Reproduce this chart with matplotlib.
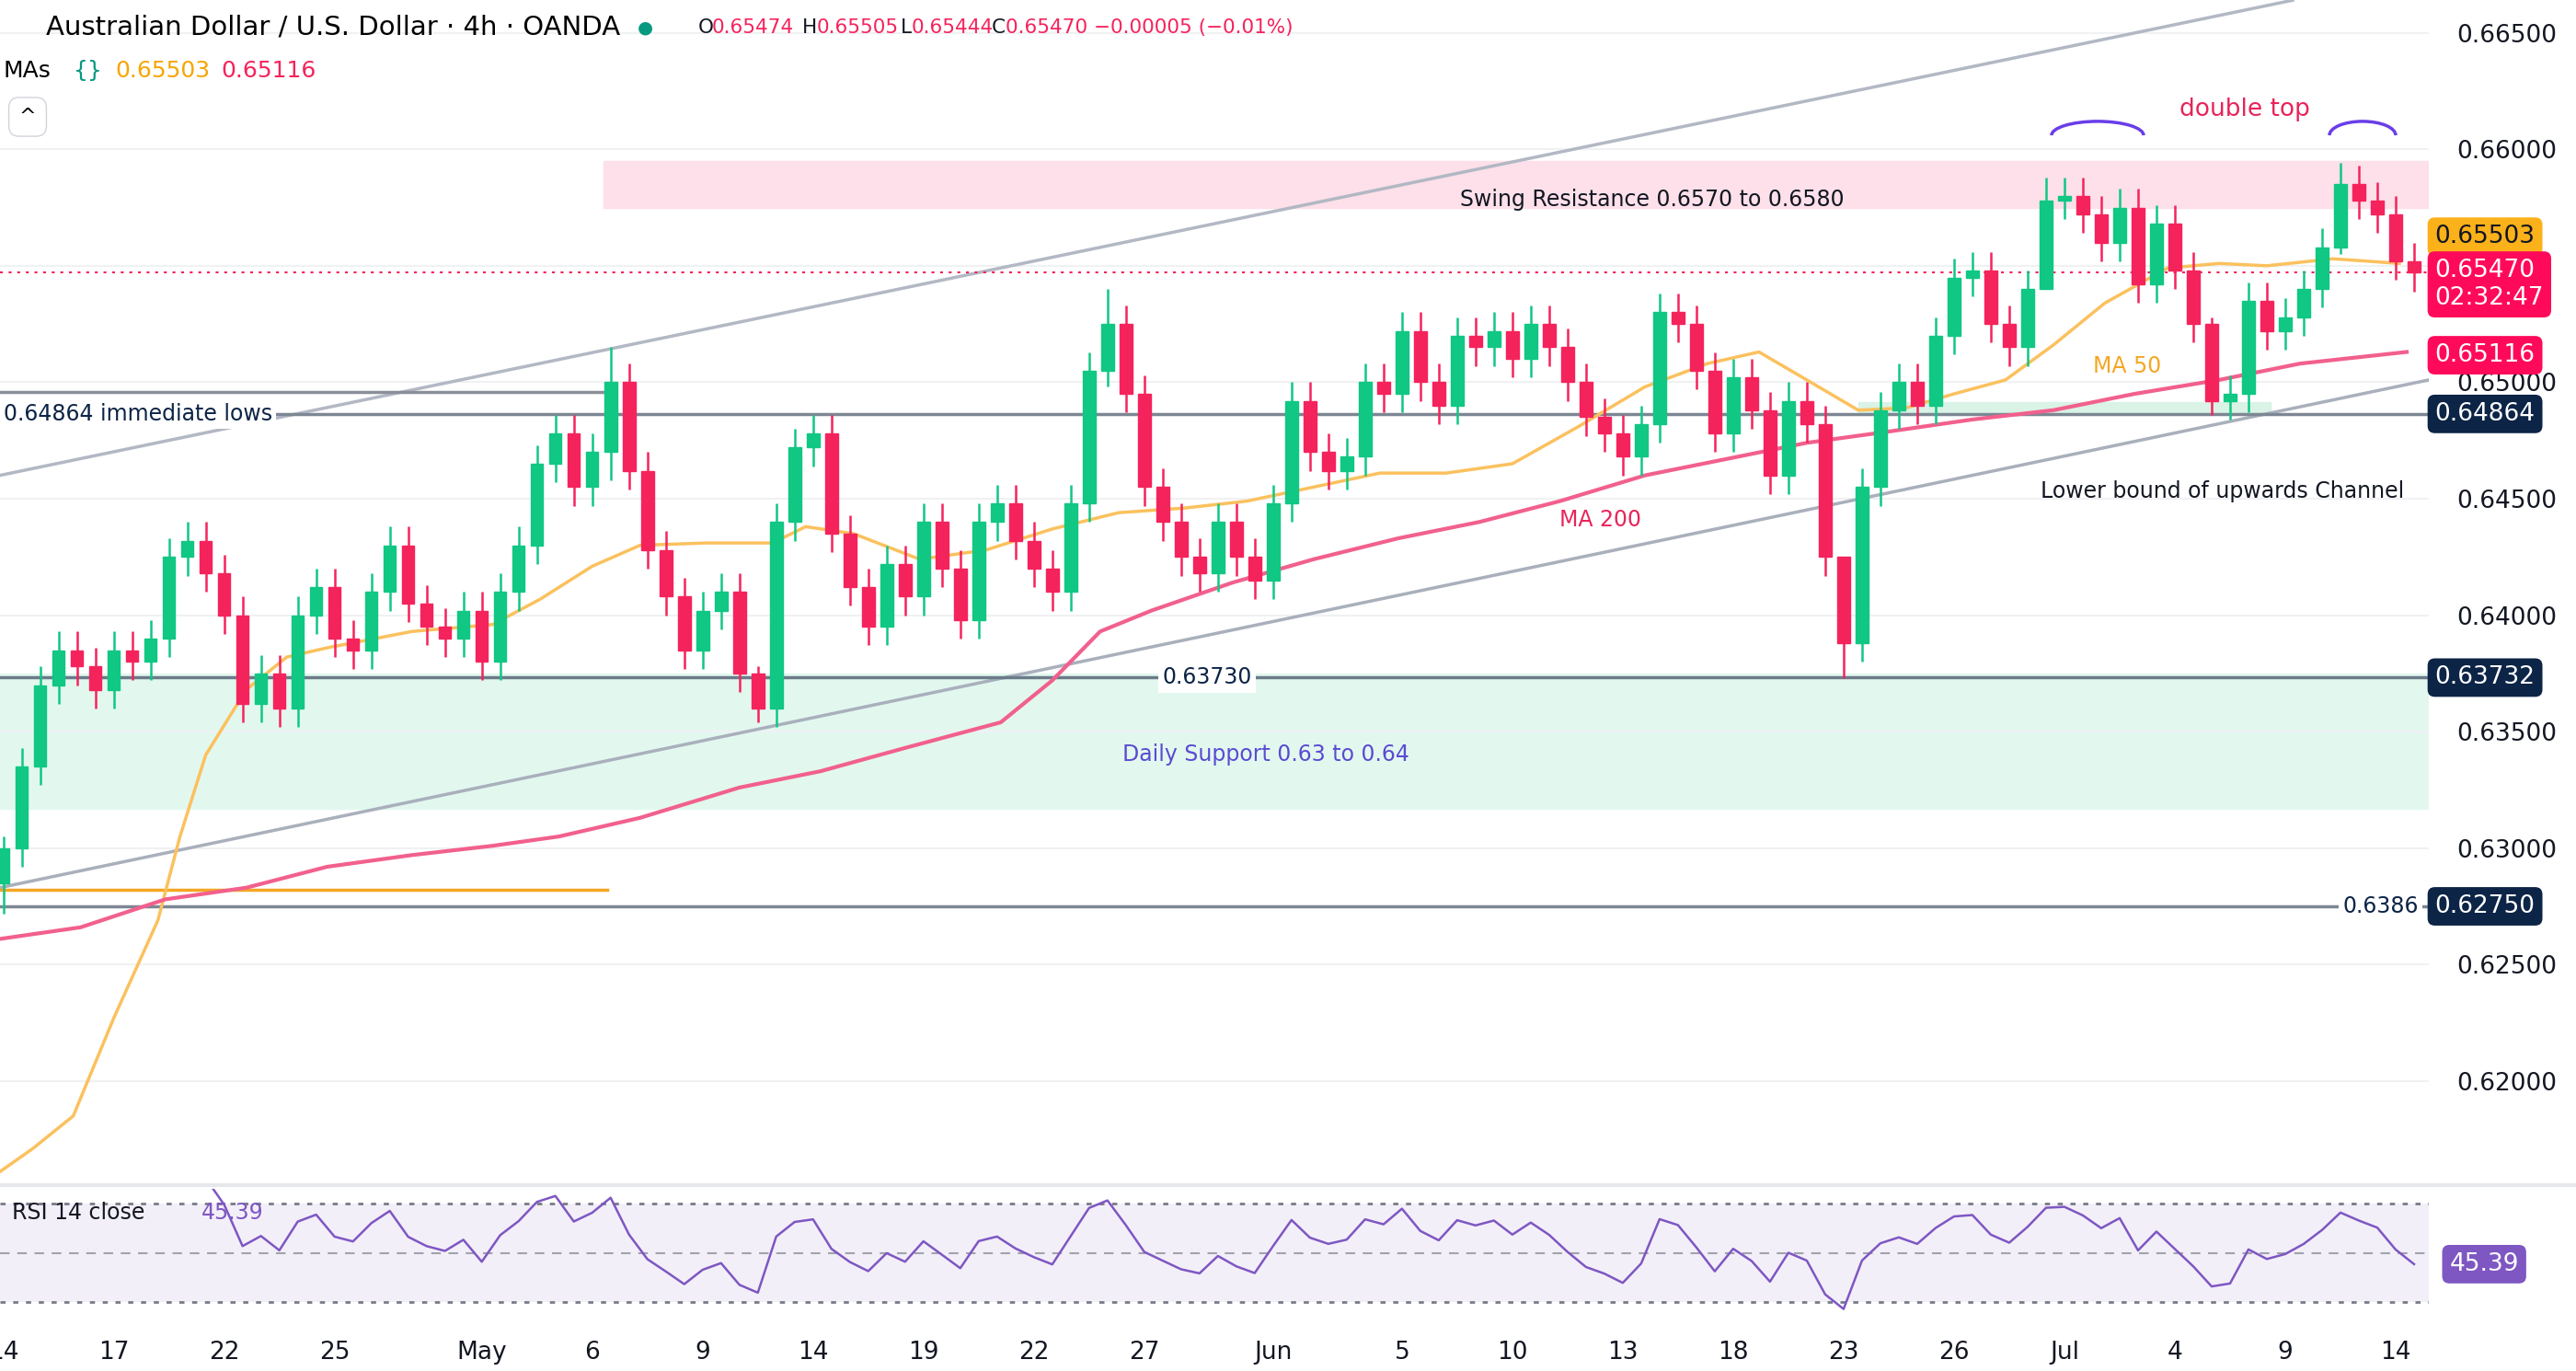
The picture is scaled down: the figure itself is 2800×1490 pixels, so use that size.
import numpy as np
import matplotlib.pyplot as plt
from matplotlib.patches import Rectangle, Arc
import matplotlib.transforms as mtransforms

plt.rcParams['font.family'] = 'DejaVu Sans'

# ---- data (x in trading days from Apr 14) ----
closes = [
    0.6300, 0.6335, 0.6370, 0.6385, 0.6378, 0.6368, 0.6385, 0.6380, 0.6390, 0.6425,
    0.6432, 0.6418, 0.6400, 0.6362, 0.6375, 0.6360, 0.6400, 0.6412, 0.6390, 0.6385,
    0.6410, 0.6430, 0.6405, 0.6395, 0.6390, 0.6402, 0.6380, 0.6410, 0.6430, 0.6465,
    0.6478, 0.6455, 0.6470, 0.6500, 0.6462, 0.6428, 0.6408, 0.6385, 0.6402, 0.6410,
    0.6375, 0.6360, 0.6440, 0.6472, 0.6478, 0.6435, 0.6412, 0.6395, 0.6422, 0.6408,
    0.6440, 0.6420, 0.6398, 0.6440, 0.6448, 0.6432, 0.6420, 0.6410, 0.6448, 0.6505,
    0.6525, 0.6495, 0.6455, 0.6440, 0.6425, 0.6418, 0.6440, 0.6425, 0.6415, 0.6448,
    0.6492, 0.6470, 0.6462, 0.6468, 0.6500, 0.6495, 0.6522, 0.6500, 0.6490, 0.6520,
    0.6515, 0.6522, 0.6510, 0.6525, 0.6515, 0.6500, 0.6485, 0.6478, 0.6468, 0.6482,
    0.6530, 0.6525, 0.6505, 0.6478, 0.6502, 0.6488, 0.6460, 0.6492, 0.6482, 0.6425,
    0.6388, 0.6455, 0.6488, 0.6500, 0.6490, 0.6520, 0.6545, 0.6548, 0.6525, 0.6515,
    0.6540, 0.6578, 0.6580, 0.6572, 0.6560, 0.6575, 0.6542, 0.6568, 0.6548, 0.6525,
    0.6492, 0.6495, 0.6535, 0.6522, 0.6528, 0.6540, 0.6558, 0.6585, 0.6578, 0.6572,
    0.6552, 0.6547,
]
first_open = 0.6285
# notable extremes: candle index -> (high, low)
extremes = {0: (0.6305, 0.6272), 33: (0.6515, 0.6458), 41: (0.6378, 0.6354),
            60: (0.6540, 0.6498), 100: (0.6425, 0.6373), 111: (0.6588, 0.6540),
            120: (0.6528, 0.6486), 127: (0.6594, 0.6555)}

ma50_days = [-0.1, 0.8, 1.9, 3.0, 4.2, 4.8, 5.5, 6.6, 7.7, 8.8, 11.1, 13.3, 14.6, 16.0,
             17.3, 19.1, 20.9, 21.8, 23.1, 24.9, 26.7, 28.5, 30.3, 32.1, 33.8, 35.6, 37.4,
             39.2, 41.0, 42.8, 44.6, 46.3, 47.7, 49.0, 50.4, 51.7, 53.0, 54.4, 55.7, 57.1,
             58.8, 60.2, 61.5, 63.3, 65.1]
ma50_vals = [0.6161, 0.6171, 0.6185, 0.6227, 0.6269, 0.6305, 0.6340, 0.6368, 0.6382,
             0.6386, 0.6393, 0.6396, 0.6407, 0.6421, 0.6430, 0.6431, 0.6431, 0.6438,
             0.6435, 0.6424, 0.6428, 0.6437, 0.6444, 0.6446, 0.6449, 0.6455, 0.6461,
             0.6461, 0.6465, 0.6481, 0.6498, 0.6508, 0.6513, 0.6501, 0.6488, 0.6489,
             0.6495, 0.6501, 0.6516, 0.6534, 0.6549, 0.6551, 0.6550, 0.6553, 0.6551]
ma200_days = [-0.1, 2.1, 4.4, 6.6, 8.8, 11.1, 13.3, 15.1, 17.3, 20.0, 22.2, 24.5, 27.1,
              28.5, 29.8, 31.2, 33.4, 35.6, 37.9, 40.1, 42.3, 44.6, 46.8, 49.0, 51.3,
              53.5, 55.7, 57.9, 60.2, 62.4, 65.3]
ma200_vals = [0.6261, 0.6266, 0.6278, 0.6283, 0.6292, 0.6297, 0.6301, 0.6305, 0.6313,
              0.6326, 0.6333, 0.6343, 0.6354, 0.6372, 0.6393, 0.6402, 0.6414, 0.6424,
              0.6433, 0.6440, 0.6449, 0.6460, 0.6467, 0.6474, 0.6479, 0.6484, 0.6488,
              0.6495, 0.6501, 0.6508, 0.6513]

tick_days = [0, 3, 6, 9, 13, 16, 19, 22, 25, 28, 31, 34.5, 38, 41, 44, 47, 50, 53, 56, 59, 62, 65]
tick_labels = ['14', '17', '22', '25', 'May', '6', '9', '14', '19', '22', '27', 'Jun',
               '5', '10', '13', '18', '23', '26', 'Jul', '4', '9', '14']
price_ticks = [0.665, 0.660, 0.650, 0.645, 0.640, 0.635, 0.630, 0.625, 0.620]

UP, DOWN = '#10c784', '#f5235c'
NAVY = '#0c2446'
X0, X1 = -0.09, 65.9

W, H = 2800, 1490
fig = plt.figure(figsize=(28, 14.9), dpi=100)
ax = fig.add_axes([0, 1 - 1285 / H, 2640 / W, 1285 / H])
ax.set_xlim(X0, X1)
ax.set_ylim(0.61565, 0.66641)
for s in ax.spines.values():
    s.set_visible(False)
ax.set_xticks([])
ax.yaxis.tick_right()
ax.set_yticks(price_ticks)
ax.set_yticklabels(['%.5f' % p for p in price_ticks], fontsize=19, color='#131722')
ax.tick_params(axis='y', length=0, pad=22)
ax.grid(axis='y', color='#f0f1f3', lw=1.5)
ax.axhline(0.655, color='#f0f1f3', lw=1.5, zorder=0)
ax.set_axisbelow(True)

# zones
ax.add_patch(Rectangle((16.3, 0.6575), X1 - 16.3, 0.0020, color='#fde0e9', zorder=0.5))
ax.add_patch(Rectangle((X0, 0.6317), X1 - X0, 0.0058, color='#e2f8ef', zorder=0.5))
ax.add_patch(Rectangle((50.4, 0.64864), 11.2, 0.0005, color='#d9f3e6', zorder=0.5))

# candles
opens = [first_open] + closes[:-1]
days = np.arange(len(closes)) * 0.5
for i, (o, c) in enumerate(zip(opens, closes)):
    hi, lo = extremes.get(i, (max(o, c) + 0.0008, min(o, c) - 0.0008))
    col = UP if c >= o else DOWN
    ax.vlines(days[i], lo, hi, color=col, lw=1.8, zorder=3)
    ax.add_patch(Rectangle((days[i] - 0.17, min(o, c)), 0.34, max(abs(c - o), 0.00006),
                           color=col, zorder=3))

# MAs
ax.plot(ma50_days, ma50_vals, color='#fbc15e', lw=2.5, zorder=2)
ax.plot(ma200_days, ma200_vals, color='#f2608d', lw=3, zorder=2)

# channel lines and levels
ax.plot([-0.1, 62.2], [0.6460, 0.6664], color='#b2b8c4', lw=2.5, zorder=1)
ax.plot([-0.1, 65.9], [0.6283, 0.6501], color='#a9b0bc', lw=2.5, zorder=1)
ax.plot([X0, 16.4], [0.6496, 0.6496], color='#8a8f99', lw=2.5, zorder=1)
ax.plot([X0, 16.4], [0.6282, 0.6282], color='#f5a623', lw=2.5, zorder=1)
ax.axhline(0.64864, color='#7d8794', lw=2.5, zorder=1)
ax.axhline(0.63732, color='#6b7b8a', lw=2.5, zorder=1)
ax.axhline(0.62750, color='#7d8794', lw=2.5, zorder=1)
ax.axhline(0.65470, color=DOWN, lw=1.5, ls=(0, (1.5, 3)), zorder=1)

# annotations
ax.text(44.8, 0.65785, 'Swing Resistance 0.6570 to 0.6580', fontsize=17, ha='center', va='center', color='#131722')
ax.text(34.3, 0.6340, 'Daily Support 0.63 to 0.64', fontsize=17, ha='center', va='center', color='#5b4bd1')
ax.text(32.7, 0.63732, '0.63730', fontsize=17, ha='center', va='center', color=NAVY,
        bbox=dict(fc='white', ec='none', pad=3), zorder=4)
ax.text(0.0, 0.64864, '0.64864 immediate lows', fontsize=17, ha='left', va='center', color=NAVY,
        bbox=dict(fc='white', ec='none', pad=3), zorder=4)
ax.text(64.6, 0.62750, '0.6386', fontsize=17, ha='center', va='center', color=NAVY,
        bbox=dict(fc='white', ec='none', pad=3), zorder=4)
ax.text(60.3, 0.6453, 'Lower bound of upwards Channel', fontsize=17, ha='center', va='center', color='#131722')
ax.text(57.7, 0.6507, 'MA 50', fontsize=17, ha='center', va='center', color='#f5a623')
ax.text(43.4, 0.6441, 'MA 200', fontsize=17, ha='center', va='center', color='#e8245a')
ax.text(60.9, 0.6617, 'double top', fontsize=19, ha='center', va='center', color='#e8245a')
for cx, wd in [(56.9, 2.5), (64.1, 1.8)]:
    ax.add_patch(Arc((cx, 0.6606), wd, 0.0012, theta1=0, theta2=180, color='#6a3de8', lw=2.5))

# right-axis value boxes
trans = mtransforms.blended_transform_factory(ax.transAxes, ax.transData)
boxes = [(0.65625, '0.65503', '#fbb11a', '#131722'),
         (0.65116, '0.65116', '#ff0a5a', 'white'),
         (0.64864, '0.64864', NAVY, 'white'),
         (0.63732, '0.63732', NAVY, 'white'),
         (0.62750, '0.62750', NAVY, 'white')]
for y, t, bg, fg in boxes:
    ax.text(1.0025, y, t, transform=trans, fontsize=19, ha='left', va='center', color=fg,
            bbox=dict(fc=bg, ec='none', boxstyle='round,pad=0.3'), zorder=5, clip_on=False)
ax.text(1.0025, 0.65420, '0.65470\n02:32:47', transform=trans, fontsize=19, ha='left', va='center',
        color='white', linespacing=1.2, bbox=dict(fc='#ff0a5a', ec='none', boxstyle='round,pad=0.3'),
        zorder=5, clip_on=False)

# header
fig.text(50 / W, 1 - 30 / H, 'Australian Dollar / U.S. Dollar · 4h · OANDA', fontsize=21, va='center')
fig.text(693 / W, 1 - 30 / H, '●', fontsize=14, va='center', color='#089981')
hdr = [(759, 'O', '#131722'), (774, '0.65474', DOWN), (872, 'H', '#131722'), (888, '0.65505', DOWN),
       (979, 'L', '#131722'), (991, '0.65444', DOWN), (1078, 'C', '#131722'),
       (1093, '0.65470 −0.00005 (−0.01%)', DOWN)]
for xp, t, c in hdr:
    fig.text(xp / W, 1 - 30 / H, t, fontsize=15.5, va='center', color=c)
fig.text(4 / W, 1 - 77 / H, 'MAs', fontsize=18, va='center')
fig.text(80 / W, 1 - 77 / H, '{}', fontsize=18, va='center', color='#089981')
fig.text(125 / W, 1 - 77 / H, '0.65503', fontsize=18, va='center', color='#f7a600')
fig.text(240 / W, 1 - 77 / H, '0.65116', fontsize=18, va='center', color=DOWN)
fig.text(30 / W, 1 - 127 / H, '^', fontsize=16, va='center', ha='center',
         bbox=dict(fc='white', ec='#d1d4dc', boxstyle='round,pad=0.5'))

# separator
fig.add_artist(plt.Line2D([0, 1], [1 - 1288 / H] * 2, color='#e6e7ea', lw=3))

# RSI panel (shorter lookback since candles here are half-day bars)
c = np.array([first_open] + closes)
diff = np.diff(c)
gain = np.where(diff > 0, diff, 0.0)
loss = np.where(diff < 0, -diff, 0.0)
n = 8
ag, al = gain[:n].mean(), loss[:n].mean()
rsi = [50.0] * n
for g, l in zip(gain[n:], loss[n:]):
    ag = (ag * (n - 1) + g) / n
    al = (al * (n - 1) + l) / n
    rsi.append(100 - 100 / (1 + ag / al) if al > 0 else 100)
rsi = np.array(rsi[:len(closes)])
rsi[-1] = 45.39

axr = fig.add_axes([0, (H - 1438) / H, 2640 / W, (1438 - 1292) / H])
axr.set_xlim(X0, X1)
axr.set_ylim(21.5, 75.9)
for s in axr.spines.values():
    s.set_visible(False)
axr.set_yticks([])
axr.axhspan(30, 70, color='#7e57c2', alpha=0.09, lw=0)
axr.axhline(70, color='#787b86', lw=2, ls=(0, (2, 3)))
axr.axhline(30, color='#787b86', lw=2, ls=(0, (2, 3)))
axr.axhline(50, color='#a0a3ab', lw=1.5, ls=(0, (5, 4)))
axr.plot(days[n:], rsi[n:], color='#7e57c2', lw=1.8)
axr.text(0.005, 0.82, 'RSI 14 close', transform=axr.transAxes, fontsize=17, va='center', color='#131722')
axr.text(0.083, 0.82, '45.39', transform=axr.transAxes, fontsize=17, va='center', color='#7e57c2')
axr.text(1.0085, 45.39, '45.39', transform=mtransforms.blended_transform_factory(axr.transAxes, axr.transData),
         fontsize=19, va='center', color='white', clip_on=False,
         bbox=dict(fc='#7e57c2', ec='none', boxstyle='round,pad=0.3'))
axr.set_xticks(tick_days)
axr.set_xticklabels(tick_labels, fontsize=19, color='#131722')
axr.tick_params(axis='x', length=0, pad=14)

fig.savefig('out.png', dpi=100, facecolor='white')
